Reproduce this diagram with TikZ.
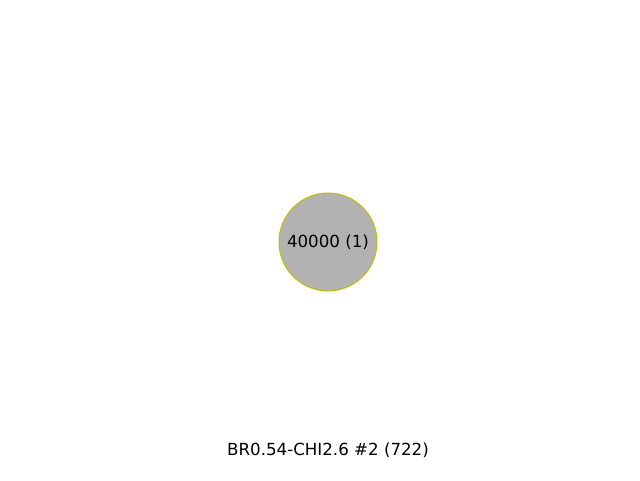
\documentclass[tikz,border=0pt]{standalone}
\usepackage{fontspec}
\setmainfont{DejaVu Sans}
\begin{document}
\begin{tikzpicture}[x=0.75pt,y=0.75pt,
  bubble/.style={circle,draw={rgb,255:red,191;green,191;blue,0},fill={rgb,255:red,178;green,178;blue,178},minimum size=73.5pt,inner sep=0pt,line width=0.75pt,font=\fontsize{12.5}{15}\selectfont},
  titletext/.style={font=\fontsize{12.5}{15}\selectfont}]
\useasboundingbox (0,0) rectangle (640,480);
\node[bubble] (n1) at (328,238) {40000 (1)};
\node[titletext] (title) at (328,30) {BR0.54-CHI2.6 \#2 (722)};
\end{tikzpicture}
\end{document}
